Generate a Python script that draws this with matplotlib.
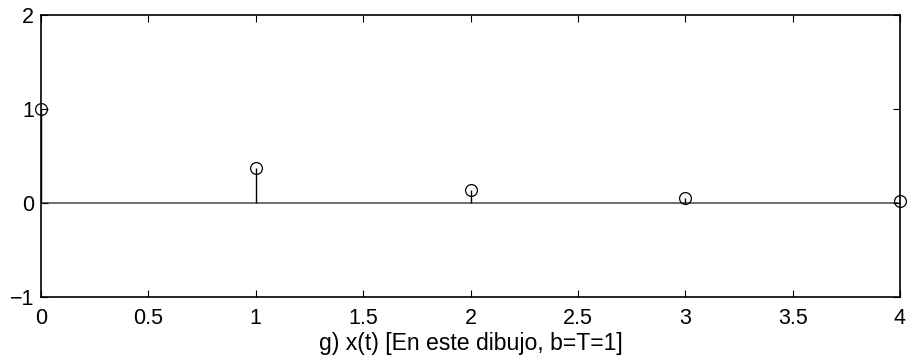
import matplotlib
matplotlib.use("Agg")
import matplotlib.pyplot as plt

t = [0, 1, 2, 3, 4]
x = [1.0, 0.37, 0.14, 0.05, 0.02]
xticks = [0, 0.5, 1, 1.5, 2, 2.5, 3, 3.5, 4]
xticklabels = ["0", "0.5", "1", "1.5", "2", "2.5", "3", "3.5", "4"]
yticks = [-1, 0, 1, 2]
yticklabels = ["\u22121", "0", "1", "2"]
xlabel = "g) x(t) [En este dibujo, b=T=1]"

plt.rcParams['font.family'] = ['Liberation Sans', 'DejaVu Sans']
fig = plt.figure(figsize=(9.09, 3.63), dpi=100)
ax = fig.add_axes([41/909, 1-297/363, (900-41)/909, (297-15)/363])

ax.axhline(0, color='#555555', lw=1.2, zorder=1)
ml, sl, bl = ax.stem(t, x, linefmt='k-', markerfmt='ko', basefmt=' ')
sl.set_linewidth(1.0)
ml.set_markerfacecolor('none')
ml.set_markeredgecolor('black')
ml.set_markersize(8.5)
ml.set_markeredgewidth(0.9)
ml.set_clip_on(False)

ax.set_xlim(0, 4)
ax.set_ylim(-1, 2)
ax.set_xticks(xticks)
ax.set_xticklabels(xticklabels)
ax.set_yticks(yticks)
ax.set_yticklabels(yticklabels)
ax.tick_params(direction='in', top=True, right=True, labelsize=15.5, length=5, width=0.8)
ax.tick_params(axis='x', pad=8)
ax.tick_params(axis='y', pad=5)
for s in ax.spines.values():
    s.set_linewidth(1.2)
ax.set_xlabel(xlabel, fontsize=16.6, labelpad=2)

fig.savefig("out.png", dpi=100)
